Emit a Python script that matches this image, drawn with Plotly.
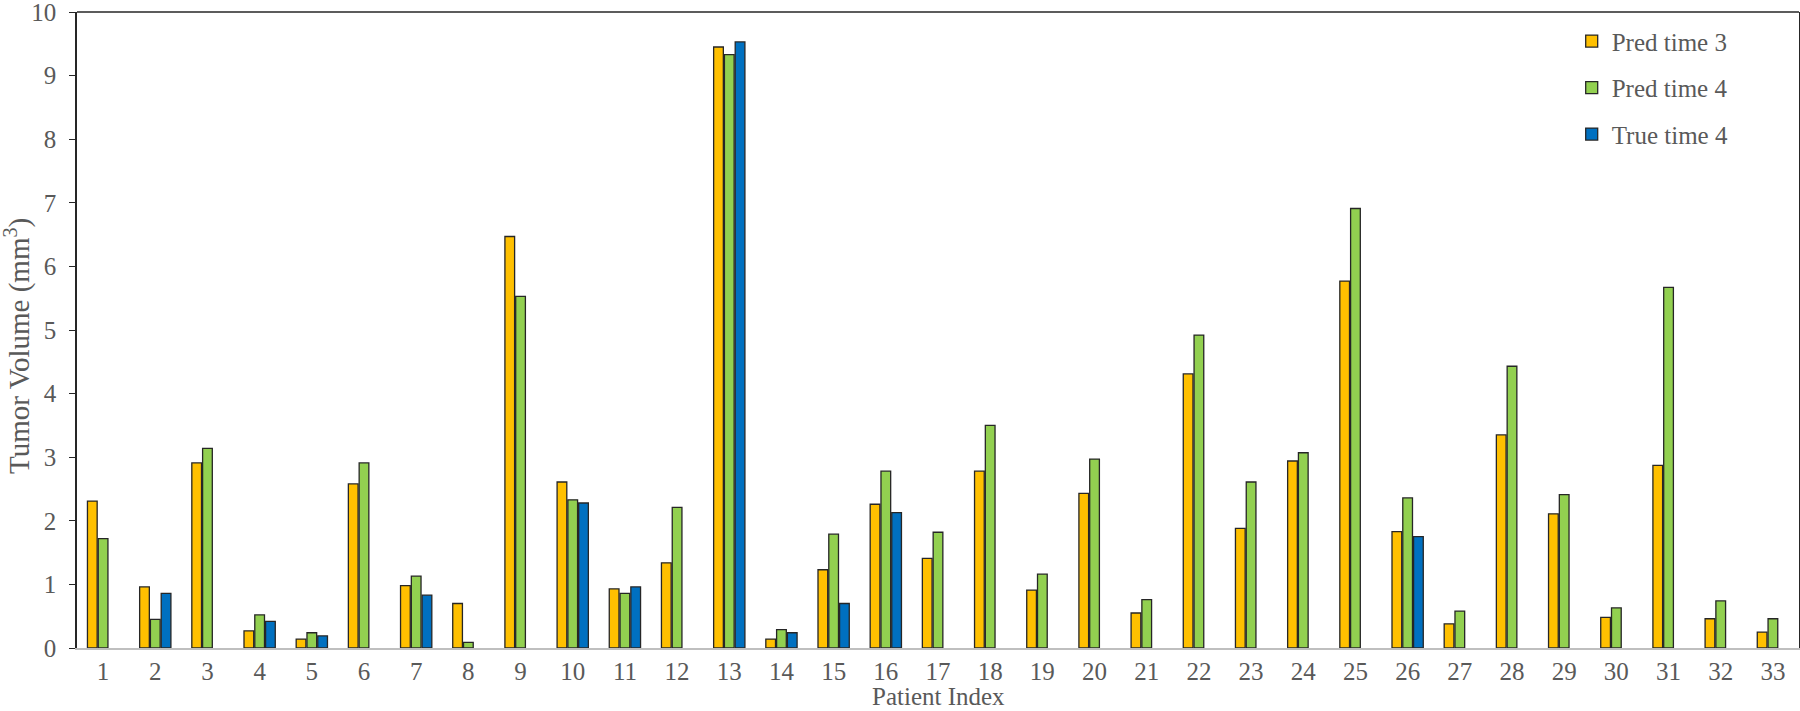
import plotly.graph_objects as go

patients = [str(i) for i in range(1, 34)]
pred_time3 = [2.31, 0.96, 2.91, 0.27, 0.14, 2.58, 0.98, 0.70, 6.47, 2.61,
              0.93, 1.34, 9.45, 0.14, 1.23, 2.26, 1.41, 2.78, 0.91, 2.43,
              0.55, 4.31, 1.88, 2.94, 5.77, 1.83, 0.38, 3.35, 2.11, 0.48,
              2.87, 0.46, 0.25]
pred_time4 = [1.72, 0.45, 3.14, 0.52, 0.24, 2.91, 1.13, 0.09, 5.53, 2.33,
              0.86, 2.21, 9.33, 0.29, 1.79, 2.78, 1.82, 3.50, 1.16, 2.97,
              0.76, 4.92, 2.61, 3.07, 6.91, 2.36, 0.58, 4.43, 2.41, 0.63,
              5.67, 0.74, 0.46]
true_time4 = [None, 0.86, None, 0.42, 0.19, None, 0.83, None, None, 2.28,
              0.96, None, 9.53, 0.24, 0.70, 2.13, None, None, None, None,
              None, None, None, None, None, 1.75, None, None, None, None,
              None, None, None]

series = [
    ("Pred time 3", pred_time3, "#FFC000"),
    ("Pred time 4", pred_time4, "#92D050"),
    ("True time 4", true_time4, "#0070C0"),
]

FONT = "Liberation Serif, Times New Roman, serif"
TXT = "#595959"

fig = go.Figure()
for i, (name, vals, col) in enumerate(series):
    fig.add_trace(go.Bar(
        x=patients, y=vals, name=name, legendgroup=f"g{i}",
        marker=dict(color=col, line=dict(color="#262626", width=1.3)),
    ))

fig.update_layout(
    width=1800, height=711,
    margin=dict(l=77, r=1, t=12, b=63),
    paper_bgcolor="white", plot_bgcolor="white",
    barmode="group", bargap=0.38, bargroupgap=0.1,
    font=dict(family=FONT, color=TXT, size=25),
    legend=dict(
        x=0.868, y=0.99, xanchor="left", yanchor="top",
        font=dict(family=FONT, size=25, color=TXT),
        bgcolor="rgba(0,0,0,0)", traceorder="grouped", tracegroupgap=11,
    ),
    xaxis=dict(
        automargin=False,
        showline=True, linecolor="#BFBFBF", linewidth=1.5,
        ticks="", tickfont=dict(size=25, color=TXT), ticklabelstandoff=0,
        showgrid=False, zeroline=False,
    ),
    yaxis=dict(
        automargin=False,
        range=[0, 10], tickvals=list(range(0, 11)),
        showline=True, linecolor="#262626", linewidth=1.5, mirror=True,
        ticks="outside", ticklen=6, tickcolor="#262626", tickwidth=1.2,
        tickfont=dict(size=25, color=TXT), ticklabelstandoff=8,
        ticklabeloverflow="allow",
        showgrid=False, zeroline=False,
    ),
    shapes=[dict(type="line", xref="paper", yref="paper", x0=0, x1=1, y0=1, y1=1,
                 line=dict(color="#262626", width=1.5))],
    annotations=[
        dict(
            text="Tumor Volume (mm<sup>3</sup>)", textangle=-90,
            xref="paper", yref="paper", x=0, y=0.475, xshift=-59,
            xanchor="center", yanchor="middle", showarrow=False,
            font=dict(family=FONT, size=29, color=TXT),
        ),
        dict(
            text="Patient Index",
            xref="paper", yref="paper", x=0.5, y=-0.076,
            xanchor="center", yanchor="middle", showarrow=False,
            font=dict(family=FONT, size=25, color=TXT),
        ),
    ],
)

fig.write_html(
    "out.html",
    config={"displayModeBar": False},
    post_script="document.body.style.margin='0px';document.body.style.overflow='hidden';",
)
